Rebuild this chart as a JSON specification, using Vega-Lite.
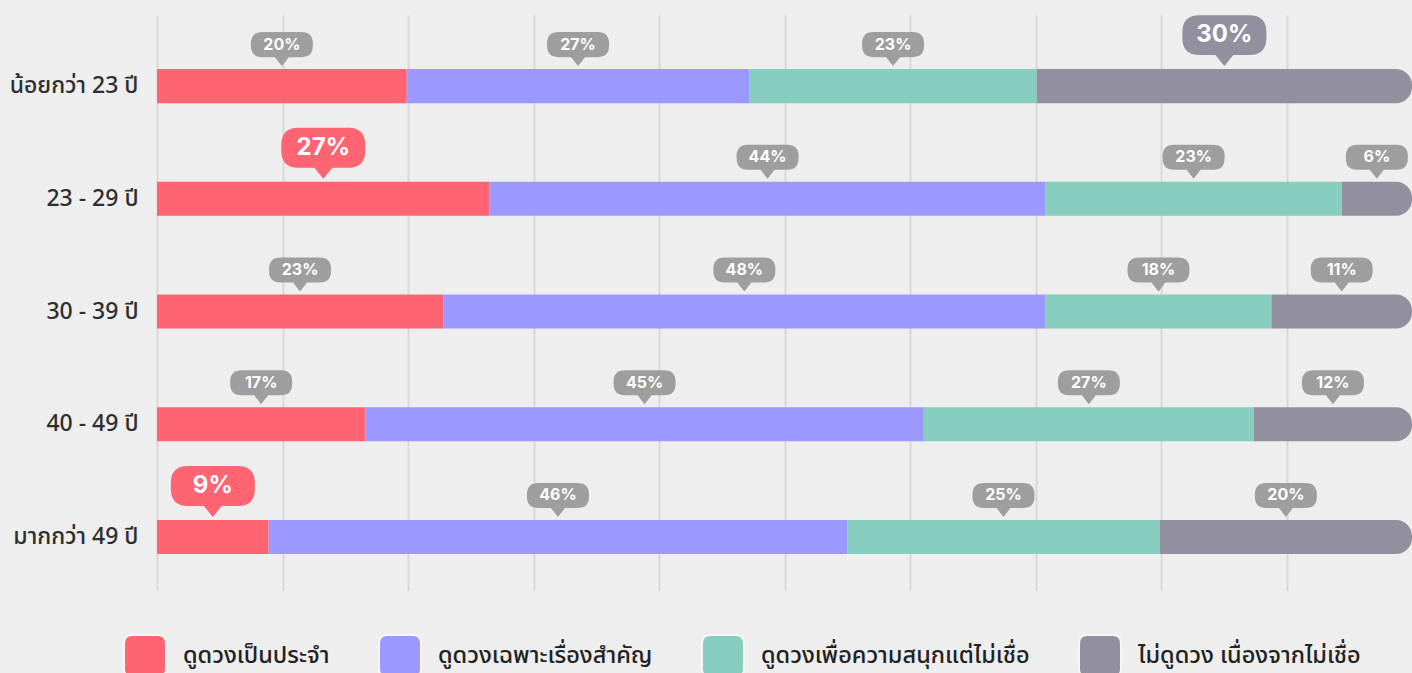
{
  "$schema": "https://vega.github.io/schema/vega-lite/v6.json",
  "width": 1255,
  "height": 575,
  "autosize": "none",
  "padding": {"left": 157, "top": 15, "right": 0, "bottom": 83},
  "background": "#edeeed",
  "config": {
    "view": {"stroke": null},
    "font": "Noto Sans Thai, Noto Sans, sans-serif"
  },
  "data": {
    "values": [
      {"age": "น้อยกว่า 23 ปี", "cat": "ดูดวงเป็นประจำ", "value": 19.9, "label": "20%"},
      {"age": "น้อยกว่า 23 ปี", "cat": "ดูดวงเฉพาะเรื่องสำคัญ", "value": 27.3, "label": "27%"},
      {"age": "น้อยกว่า 23 ปี", "cat": "ดูดวงเพื่อความสนุกแต่ไม่เชื่อ", "value": 22.9, "label": "23%"},
      {"age": "น้อยกว่า 23 ปี", "cat": "ไม่ดูดวง เนื่องจากไม่เชื่อ", "value": 29.9, "label": "30%"},
      {"age": "23 - 29 ปี", "cat": "ดูดวงเป็นประจำ", "value": 26.5, "label": "27%"},
      {"age": "23 - 29 ปี", "cat": "ดูดวงเฉพาะเรื่องสำคัญ", "value": 44.3, "label": "44%"},
      {"age": "23 - 29 ปี", "cat": "ดูดวงเพื่อความสนุกแต่ไม่เชื่อ", "value": 23.6, "label": "23%"},
      {"age": "23 - 29 ปี", "cat": "ไม่ดูดวง เนื่องจากไม่เชื่อ", "value": 5.6, "label": "6%"},
      {"age": "30 - 39 ปี", "cat": "ดูดวงเป็นประจำ", "value": 22.8, "label": "23%"},
      {"age": "30 - 39 ปี", "cat": "ดูดวงเฉพาะเรื่องสำคัญ", "value": 48.0, "label": "48%"},
      {"age": "30 - 39 ปี", "cat": "ดูดวงเพื่อความสนุกแต่ไม่เชื่อ", "value": 18.0, "label": "18%"},
      {"age": "30 - 39 ปี", "cat": "ไม่ดูดวง เนื่องจากไม่เชื่อ", "value": 11.2, "label": "11%"},
      {"age": "40 - 49 ปี", "cat": "ดูดวงเป็นประจำ", "value": 16.6, "label": "17%"},
      {"age": "40 - 49 ปี", "cat": "ดูดวงเฉพาะเรื่องสำคัญ", "value": 44.5, "label": "45%"},
      {"age": "40 - 49 ปี", "cat": "ดูดวงเพื่อความสนุกแต่ไม่เชื่อ", "value": 26.3, "label": "27%"},
      {"age": "40 - 49 ปี", "cat": "ไม่ดูดวง เนื่องจากไม่เชื่อ", "value": 12.6, "label": "12%"},
      {"age": "มากกว่า 49 ปี", "cat": "ดูดวงเป็นประจำ", "value": 8.9, "label": "9%"},
      {"age": "มากกว่า 49 ปี", "cat": "ดูดวงเฉพาะเรื่องสำคัญ", "value": 46.1, "label": "46%"},
      {"age": "มากกว่า 49 ปี", "cat": "ดูดวงเพื่อความสนุกแต่ไม่เชื่อ", "value": 24.9, "label": "25%"},
      {"age": "มากกว่า 49 ปี", "cat": "ไม่ดูดวง เนื่องจากไม่เชื่อ", "value": 20.1, "label": "20%"}
    ]
  },
  "transform": [
    {"stack": "value", "groupby": ["age"], "as": ["x0", "x1"]},
    {"calculate": "(datum.x0 + datum.x1) / 2", "as": "mid"}
  ],
  "encoding": {
    "y": {
      "field": "age",
      "type": "nominal",
      "sort": ["น้อยกว่า 23 ปี", "23 - 29 ปี", "30 - 39 ปี", "40 - 49 ปี", "มากกว่า 49 ปี"],
      "scale": {"paddingInner": 0.698, "paddingOuter": 0.4, "align": 0.6},
      "axis": {
        "title": null,
        "ticks": false,
        "domain": false,
        "labelFontSize": 23,
        "labelFontWeight": 500,
        "labelColor": "#2e2e2e",
        "labelPadding": 19
      }
    }
  },
  "layer": [
    {
      "transform": [{"filter": "datum.cat !== 'ไม่ดูดวง เนื่องจากไม่เชื่อ'"}],
      "mark": {"type": "bar"},
      "encoding": {
        "x": {
          "field": "x0",
          "type": "quantitative",
          "scale": {"domain": [0, 100], "nice": false},
          "axis": {
            "title": null,
            "labels": false,
            "ticks": false,
            "domain": false,
            "grid": true,
            "gridColor": "#dbd8d9",
            "gridWidth": 2,
            "values": [0, 10, 20, 30, 40, 50, 60, 70, 80, 90]
          }
        },
        "x2": {"field": "x1"},
        "color": {
          "field": "cat",
          "type": "nominal",
          "scale": {
            "domain": ["ดูดวงเป็นประจำ", "ดูดวงเฉพาะเรื่องสำคัญ", "ดูดวงเพื่อความสนุกแต่ไม่เชื่อ", "ไม่ดูดวง เนื่องจากไม่เชื่อ"],
            "range": ["#ff6473", "#9b99ff", "#87cdc0", "#92909e"]
          },
          "legend": {
            "title": null,
            "orient": "none",
            "legendX": -34,
            "legendY": 619,
            "direction": "horizontal",
            "columns": 4,
            "columnPadding": 45,
            "symbolType": "M -0.6,-1 L 0.6,-1 Q 1,-1 1,-0.6 L 1,0.6 Q 1,1 0.6,1 L -0.6,1 Q -1,1 -1,0.6 L -1,-0.6 Q -1,-1 -0.6,-1 Z",
            "symbolSize": 1764,
            "symbolStrokeColor": "#f6f6f6",
            "symbolStrokeWidth": 2,
            "symbolOpacity": 1,
            "labelFontSize": 23.5,
            "labelFontWeight": 500,
            "labelColor": "#222222",
            "labelOffset": 16,
            "labelLimit": 600
          }
        }
      }
    },
    {
      "transform": [{"filter": "datum.cat === 'ไม่ดูดวง เนื่องจากไม่เชื่อ'"}],
      "mark": {"type": "bar", "cornerRadiusTopRight": 16, "cornerRadiusBottomRight": 16},
      "encoding": {
        "x": {"field": "x0", "type": "quantitative"},
        "x2": {"field": "x1"},
        "color": {"field": "cat", "type": "nominal"}
      }
    },
    {
      "transform": [{"filter": "!((datum.age === 'น้อยกว่า 23 ปี' && datum.cat === 'ไม่ดูดวง เนื่องจากไม่เชื่อ') || (datum.age === '23 - 29 ปี' && datum.cat === 'ดูดวงเป็นประจำ') || (datum.age === 'มากกว่า 49 ปี' && datum.cat === 'ดูดวงเป็นประจำ'))"}],
      "layer": [
        {
          "mark": {
            "type": "point",
            "filled": true,
            "opacity": 1,
            "color": "#9e9e9e",
            "size": 3844,
            "shape": "M -0.63,-1.742 L 0.63,-1.742 Q 1,-1.742 1,-1.37 L 1,-1.307 Q 1,-0.935 0.63,-0.935 L 0.226,-0.935 L 0,-0.645 L -0.226,-0.935 L -0.63,-0.935 Q -1,-0.935 -1,-1.307 L -1,-1.37 Q -1,-1.742 -0.63,-1.742 Z"
          },
          "encoding": {"x": {"field": "mid", "type": "quantitative"}}
        },
        {
          "mark": {"type": "text", "color": "#ffffff", "font": "Inter", "fontWeight": "bold", "fontSize": 16, "baseline": "middle", "align": "center", "dy": -41.5},
          "encoding": {
            "x": {"field": "mid", "type": "quantitative"},
            "text": {"field": "label"}
          }
        }
      ]
    },
    {
      "transform": [{"filter": "(datum.age === 'น้อยกว่า 23 ปี' && datum.cat === 'ไม่ดูดวง เนื่องจากไม่เชื่อ') || (datum.age === '23 - 29 ปี' && datum.cat === 'ดูดวงเป็นประจำ') || (datum.age === 'มากกว่า 49 ปี' && datum.cat === 'ดูดวงเป็นประจำ')"}],
      "layer": [
        {
          "mark": {
            "type": "point",
            "filled": true,
            "opacity": 1,
            "size": 7056,
            "shape": "M -0.595,-1.69 L 0.595,-1.69 Q 1,-1.69 1,-1.285 L 1,-1.143 Q 1,-0.738 0.595,-0.738 L 0.214,-0.738 L 0,-0.476 L -0.214,-0.738 L -0.595,-0.738 Q -1,-0.738 -1,-1.143 L -1,-1.285 Q -1,-1.69 -0.595,-1.69 Z"
          },
          "encoding": {
            "x": {"field": "mid", "type": "quantitative"},
            "color": {"field": "cat", "type": "nominal"}
          }
        },
        {
          "mark": {"type": "text", "color": "#ffffff", "font": "Inter", "fontWeight": "bold", "fontSize": 24, "baseline": "middle", "align": "center", "dy": -51},
          "encoding": {
            "x": {"field": "mid", "type": "quantitative"},
            "text": {"field": "label"}
          }
        }
      ]
    }
  ]
}
